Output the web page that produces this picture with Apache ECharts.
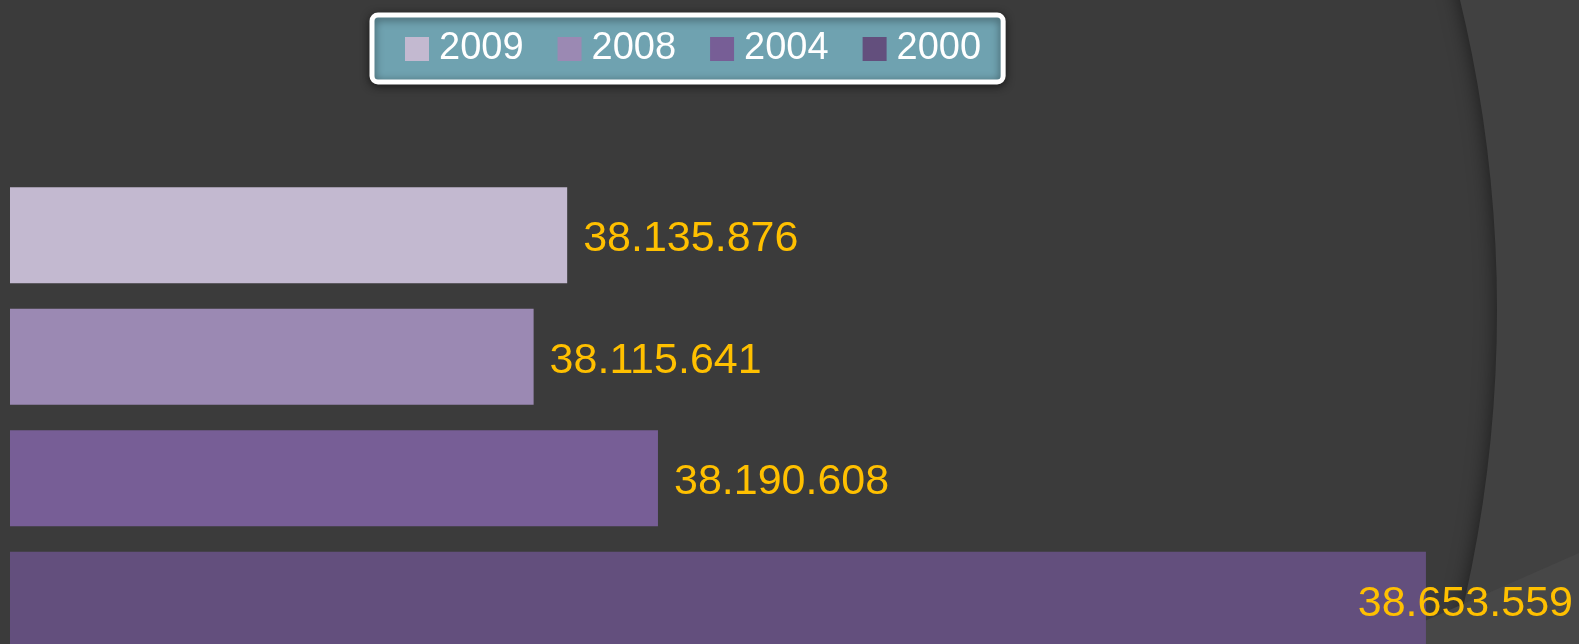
<!DOCTYPE html>
<html>
<head>
<meta charset="utf-8">
<script src="https://cdn.jsdelivr.net/npm/echarts@6/dist/echarts.min.js"></script>
<style>
  html, body { margin: 0; padding: 0; background: #3b3b3b; }
  #chart { width: 1579px; height: 644px; }
</style>
</head>
<body>
<div id="chart"></div>
<script>
// 数据
var years = ['2009', '2008', '2004', '2000'];
var values = [38135876, 38115641, 38190608, 38653559];
var colors = ['#c3b9d0', '#9b89b3', '#775e96', '#634f7d'];

var labelFont = '"Liberation Sans", Arial, sans-serif';

function fmt(v) {
    return String(v).replace(/\B(?=(\d{3})+(?!\d))/g, '.');
}

var myChart = echarts.init(document.getElementById('chart'));

var series = years.map(function (y, i) {
    var data = years.map(function (_, j) {
        if (j !== i) return '-';
        var item = { value: values[i] };
        if (i === years.length - 1) {
            // 最后一个标签被推回到图内
            item.label = {
                position: ['100%', '50%'],
                align: 'right',
                verticalAlign: 'middle',
                offset: [147, 4]
            };
        }
        return item;
    });
    return {
        name: y,
        type: 'bar',
        barWidth: 96,
        barGap: '-100%',
        itemStyle: { color: colors[i] },
        label: {
            show: true,
            position: 'right',
            distance: 16,
            offset: [0, 4],
            color: '#ffc000',
            fontSize: 43,
            fontFamily: labelFont,
            formatter: function (p) { return fmt(p.value); }
        },
        data: data
    };
});

var option = {
    backgroundColor: '#3b3b3b',
    animation: false,
    graphic: [
        {
            type: 'ring',
            z: 0,
            silent: true,
            shape: { cx: 180, cy: 310, r: 3000, r0: 1317 },
            style: {
                fill: '#414141',
                shadowBlur: 20,
                shadowColor: 'rgba(0,0,0,0.55)'
            }
        },
        {
            type: 'polygon',
            z: 0,
            silent: true,
            shape: { points: [[1420, 623], [1579, 553], [1579, 644], [1420, 644]] },
            style: { fill: '#474747' }
        }
    ],
    legend: {
        left: 372,
        top: 15,
        icon: 'rect',
        itemWidth: 24,
        itemHeight: 24,
        itemGap: 34,
        padding: [15, 22, 14, 33],
        backgroundColor: '#6fa2b0',
        borderColor: '#ffffff',
        borderWidth: 5,
        borderRadius: 6,
        shadowBlur: 8,
        shadowColor: 'rgba(0,0,0,0.5)',
        shadowOffsetY: 2,
        textStyle: {
            color: '#ffffff',
            fontSize: 38,
            fontFamily: labelFont,
            padding: [0, 0, 0, 5]
        },
        data: years
    },
    grid: {
        left: 10,
        width: 1493,
        top: 174.5,
        height: 486,
        outerBoundsMode: 'none',
        containLabel: false
    },
    xAxis: {
        type: 'value',
        min: 37800000,
        max: 38700000,
        show: false
    },
    yAxis: {
        type: 'category',
        data: years,
        inverse: true,
        show: false
    },
    series: series
};

myChart.setOption(option);
</script>
</body>
</html>
